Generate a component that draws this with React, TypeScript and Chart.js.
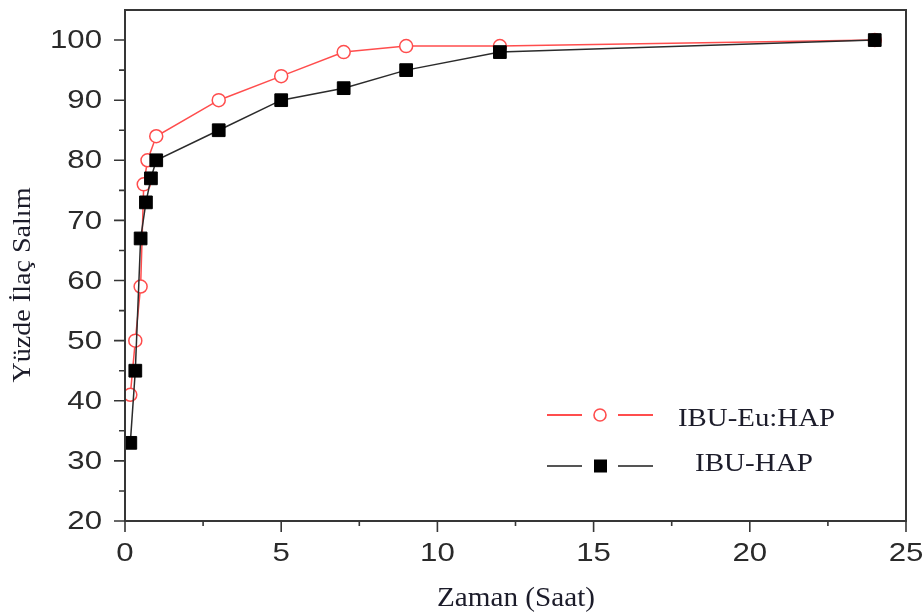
import { useEffect, useRef } from "react";
import { Chart, registerables } from "chart.js";

Chart.register(...registerables);

// ---- data ----
const euTimes = [0.17, 0.33, 0.5, 0.6, 0.72, 1, 3, 5, 7, 9, 12, 24];
const euRelease = [41, 50, 59, 76, 80, 84, 90, 94, 98, 99, 99, 100];
const hapTimes = [0.17, 0.33, 0.5, 0.67, 0.83, 1, 3, 5, 7, 9, 12, 24];
const hapRelease = [33, 45, 67, 73, 77, 80, 85, 90, 92, 95, 98, 100];
const seriesNames = ["IBU-Eu:HAP", "IBU-HAP"];
const xTickLabels = ["0", "5", "10", "15", "20", "25"];
const yTickLabels = ["20", "30", "40", "50", "60", "70", "80", "90", "100"];
const xTitle = "Zaman (Saat)";
const yTitle = "Yüzde İlaç Salım";

const RED = "#ff4d4d";
const AXIS = "#363636";

function drawScaled(
  ctx: CanvasRenderingContext2D,
  text: string,
  x: number,
  y: number,
  align: CanvasTextAlign,
  base: CanvasTextBaseline,
  sx: number,
  rot = 0
) {
  ctx.save();
  ctx.translate(x, y);
  if (rot) ctx.rotate(rot);
  ctx.scale(sx, 1);
  ctx.textAlign = align;
  ctx.textBaseline = base;
  ctx.fillText(text, 0, 0);
  ctx.restore();
}

function fitScale(ctx: CanvasRenderingContext2D, text: string, target: number) {
  const w = ctx.measureText(text).width;
  return w > 0 ? target / w : 1;
}

const decorPlugin = {
  id: "decor",
  afterDraw(chart: any) {
    const { ctx, chartArea: a, scales } = chart;
    const xs = scales.x;
    const ys = scales.y;
    ctx.save();

    // frame
    ctx.strokeStyle = AXIS;
    ctx.lineWidth = 2;
    ctx.strokeRect(a.left, a.top, a.right - a.left, a.bottom - a.top);

    // ticks
    ctx.lineWidth = 1.6;
    const xMaj = xTickLabels.map(Number);
    const yMaj = yTickLabels.map(Number);
    ctx.beginPath();
    xMaj.forEach((v, i) => {
      const px = xs.getPixelForValue(v);
      ctx.moveTo(px, a.bottom);
      ctx.lineTo(px, a.bottom + 11);
      if (i < xMaj.length - 1) {
        const pm = xs.getPixelForValue((v + xMaj[i + 1]) / 2);
        ctx.moveTo(pm, a.bottom);
        ctx.lineTo(pm, a.bottom + 5);
      }
    });
    yMaj.forEach((v, i) => {
      const py = ys.getPixelForValue(v);
      ctx.moveTo(a.left, py);
      ctx.lineTo(a.left - 11, py);
      if (i < yMaj.length - 1) {
        const pm = ys.getPixelForValue((v + yMaj[i + 1]) / 2);
        ctx.moveTo(a.left, pm);
        ctx.lineTo(a.left - 6, pm);
      }
    });
    ctx.stroke();

    // tick labels
    ctx.fillStyle = "#2a2a2a";
    ctx.font = "26px 'Liberation Sans', Arial, sans-serif";
    xTickLabels.forEach((t) => {
      drawScaled(ctx, t, xs.getPixelForValue(Number(t)), a.bottom + 40, "center", "alphabetic", 1.2);
    });
    yTickLabels.forEach((t) => {
      drawScaled(ctx, t, a.left - 23, ys.getPixelForValue(Number(t)) + 1, "right", "middle", 1.2);
    });

    // axis titles
    ctx.fillStyle = "#1c1c2a";
    ctx.font = "27px 'Liberation Serif', 'Times New Roman', serif";
    drawScaled(ctx, xTitle, 516, 606, "center", "alphabetic", fitScale(ctx, xTitle, 158));
    ctx.font = "25px 'Liberation Serif', 'Times New Roman', serif";
    drawScaled(ctx, yTitle, 30, 285, "center", "alphabetic", fitScale(ctx, yTitle, 195), -Math.PI / 2);

    // legend
    const rows = [
      { y: 415, color: RED, lw: 1.8, marker: "circle", text: seriesNames[0], tx: 678, tw: 157, base: 426 },
      { y: 466, color: "#555555", lw: 2.2, marker: "rect", text: seriesNames[1], tx: 695, tw: 118, base: 471 },
    ];
    rows.forEach((r) => {
      ctx.strokeStyle = r.color;
      ctx.lineWidth = r.lw;
      ctx.beginPath();
      ctx.moveTo(547, r.y);
      ctx.lineTo(582, r.y);
      ctx.moveTo(618, r.y);
      ctx.lineTo(653, r.y);
      ctx.stroke();
      if (r.marker === "circle") {
        ctx.beginPath();
        ctx.arc(600, r.y, 6, 0, Math.PI * 2);
        ctx.fillStyle = "#fff";
        ctx.fill();
        ctx.strokeStyle = RED;
        ctx.lineWidth = 1.6;
        ctx.stroke();
      } else {
        ctx.fillStyle = "#000";
        ctx.fillRect(594, r.y - 6.5, 13, 13);
      }
      ctx.fillStyle = "#1c1c2a";
      ctx.font = "25px 'Liberation Serif', 'Times New Roman', serif";
      drawScaled(ctx, r.text, r.tx, r.base, "left", "alphabetic", fitScale(ctx, r.text, r.tw));
    });

    ctx.restore();
  },
};

export default function App() {
  const ref = useRef<HTMLCanvasElement | null>(null);

  useEffect(() => {
    if (!ref.current) return;
    const chart = new Chart(ref.current, {
      type: "line",
      data: {
        datasets: [
          {
            label: seriesNames[0],
            data: euTimes.map((t, i) => ({ x: t, y: euRelease[i] })),
            borderColor: RED,
            borderWidth: 1.5,
            pointStyle: "circle",
            pointRadius: 6.5,
            pointBackgroundColor: "#ffffff",
            pointBorderColor: RED,
            pointBorderWidth: 1.5,
            order: 2,
          },
          {
            label: seriesNames[1],
            data: hapTimes.map((t, i) => ({ x: t, y: hapRelease[i] })),
            borderColor: "#2b2b2b",
            borderWidth: 1.5,
            pointStyle: "rect",
            pointRadius: 9,
            pointBackgroundColor: "#000000",
            pointBorderColor: "#000000",
            pointBorderWidth: 1,
            order: 1,
          },
        ],
      },
      options: {
        responsive: false,
        animation: false,
        layout: { padding: { left: 0, right: 17, top: 7, bottom: 0 } },
        plugins: { legend: { display: false }, tooltip: { enabled: false } },
        scales: {
          x: {
            type: "linear",
            min: 0,
            max: 25,
            ticks: { display: false, stepSize: 5 },
            grid: { display: false },
            border: { display: false },
            afterFit: (s: any) => {
              s.height = 93;
            },
          },
          y: {
            type: "linear",
            min: 20,
            max: 105,
            ticks: { display: false, stepSize: 10 },
            grid: { display: false },
            border: { display: false },
            afterFit: (s: any) => {
              s.width = 125;
            },
          },
        },
      },
      plugins: [decorPlugin],
    });
    return () => chart.destroy();
  }, []);

  return (
    <div style={{ position: "fixed", left: 0, top: 0, width: 923, height: 614, background: "#fff" }}>
      <canvas ref={ref} width={923} height={614} style={{ display: "block" }} />
    </div>
  );
}
